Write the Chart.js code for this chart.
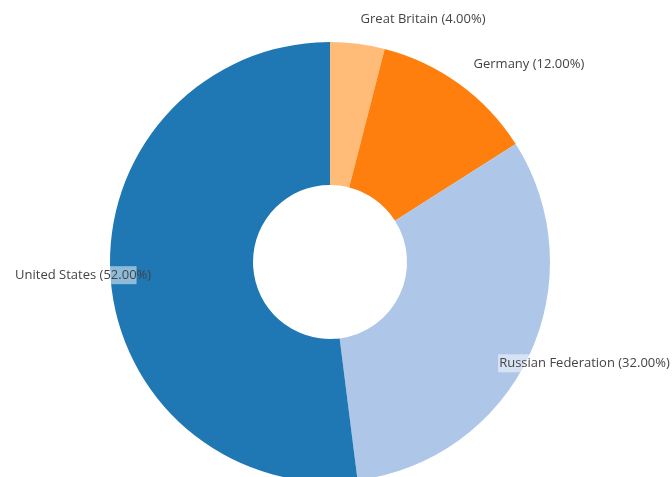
<!DOCTYPE html>
<html>
<head>
<meta charset="utf-8">
<script src="https://cdn.jsdelivr.net/npm/chart.js@4.4.1/dist/chart.umd.min.js"></script>
<style>
    html, body { margin: 0; padding: 0; background: #fff; overflow: hidden; }
    #wrap { width: 672px; height: 477px; overflow: hidden; }
</style>
</head>
<body>
<div id="wrap"><canvas id="medalChart" width="672" height="524"></canvas></div>
<script>
const countries = ["Great Britain", "Germany", "Russian Federation", "United States"];
const shares = [4, 12, 32, 52];
const sliceColors = ["#ffbb78", "#ff7f0e", "#aec7e8", "#1f77b4"];

// where each label sits relative to its slice (fraction of outer radius + nudge)
const labelPlacement = [
    { radius: 1.11, dx: 0, dy: 0, align: "left" },
    { radius: 1.11, dx: 0, dy: 0, align: "left" },
    { radius: 0.9, dx: -10, dy: 17, align: "left" },
    { radius: 0.81, dx: -1, dy: 2, align: "right" }
];

const sliceLabels = {
    id: "sliceLabels",
    afterDatasetsDraw(chart) {
        const ctx = chart.ctx;
        const meta = chart.getDatasetMeta(0);
        const values = chart.data.datasets[0].data;
        const total = values.reduce((a, b) => a + b, 0);

        ctx.save();
        ctx.font = "13px 'Open Sans'";
        ctx.textBaseline = "middle";

        meta.data.forEach((arc, i) => {
            const p = labelPlacement[i];
            const mid = (arc.startAngle + arc.endAngle) / 2;
            const r = arc.outerRadius * p.radius;
            let x = arc.x + Math.cos(mid) * r + p.dx;
            let y = arc.y + Math.sin(mid) * r + p.dy;

            const text = chart.data.labels[i] + " (" + (values[i] / total * 100).toFixed(2) + "%)";
            const w = ctx.measureText(text).width;
            const left = p.align === "left" ? x : x - w;

            // translucent box behind the text
            ctx.fillStyle = "rgba(255,255,255,0.5)";
            ctx.fillRect(left - 1, y - 9, w * 0.9, 18);

            ctx.fillStyle = "#444";
            ctx.textAlign = "left";
            ctx.fillText(text, left, y);
        });
        ctx.restore();
    }
};

const canvas = document.getElementById("medalChart");

new Chart(canvas.getContext("2d"), {
    type: "doughnut",
    data: {
        labels: countries,
        datasets: [{
            data: shares,
            backgroundColor: sliceColors,
            borderWidth: 0,
            hoverOffset: 0
        }]
    },
    options: {
        responsive: false,
        maintainAspectRatio: false,
        animation: false,
        cutout: "35%",
        layout: {
            padding: { top: 42, bottom: 42, left: 36, right: 48 }
        },
        plugins: {
            legend: { display: false },
            tooltip: { enabled: false }
        }
    },
    plugins: [sliceLabels]
});
</script>
</body>
</html>
